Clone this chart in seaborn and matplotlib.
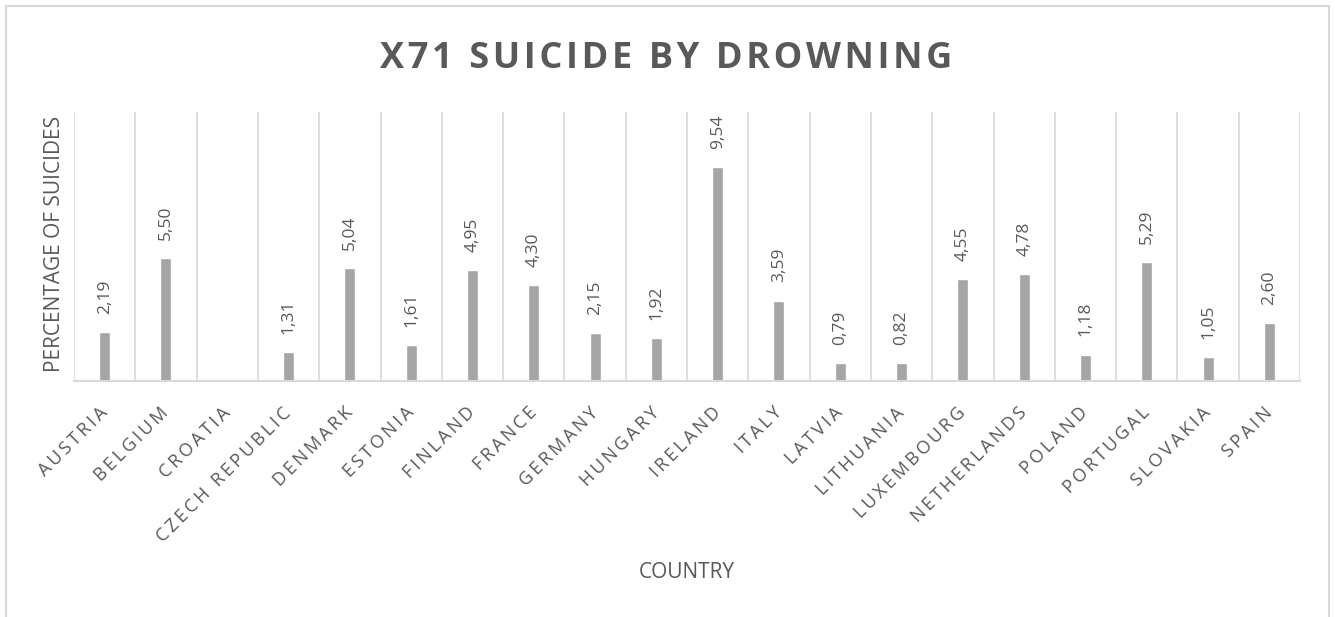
import numpy as np
import pandas as pd
import matplotlib
matplotlib.use("Agg")
import matplotlib.pyplot as plt
import seaborn as sns
from matplotlib.patches import Rectangle

countries = ["AUSTRIA", "BELGIUM", "CROATIA", "CZECH REPUBLIC", "DENMARK", "ESTONIA",
             "FINLAND", "FRANCE", "GERMANY", "HUNGARY", "IRELAND", "ITALY", "LATVIA",
             "LITHUANIA", "LUXEMBOURG", "NETHERLANDS", "POLAND", "PORTUGAL", "SLOVAKIA", "SPAIN"]
values = [2.19, 5.50, np.nan, 1.31, 5.04, 1.61, 4.95, 4.30, 2.15, 1.92, 9.54, 3.59, 0.79,
          0.82, 4.55, 4.78, 1.18, 5.29, 1.05, 2.60]
title = "X71 SUICIDE BY DROWNING"
ylabel = "PERCENTAGE OF SUICIDES"
xlabel = "COUNTRY"

TXT = "#595959"
GRID = "#D9D9D9"
BAR = "#A5A5A5"

sns.set_theme(style="white")
plt.rcParams['font.family'] = ['Open Sans', 'DejaVu Sans']

W, H = 1335, 617
fig = plt.figure(figsize=(W / 100, H / 100), dpi=100)
ax = fig.add_axes([74 / W, 1 - 381 / H, (1300 - 74) / W, (381 - 112) / H])

df = pd.DataFrame({"country": countries, "value": values})
sns.barplot(data=df, x="country", y="value", order=countries, color=BAR,
            width=0.18, ax=ax, saturation=1, errorbar=None)

ax.set_ylim(0, 12)
ax.set_xlim(-0.5, len(countries) - 0.5)
ax.set_yticks([])
for s in ["top", "right", "left"]:
    ax.spines[s].set_visible(False)
ax.spines["bottom"].set_color(GRID)
ax.spines["bottom"].set_linewidth(1.5)
for b in np.arange(-0.5, len(countries) + 0.5, 1.0):
    ax.axvline(b, color=GRID, lw=1.2, zorder=0)

for i, v in enumerate(values):
    if np.isnan(v):
        continue
    ax.annotate(f"{v:.2f}".replace(".", ","), (i, v), xytext=(0, 13),
                textcoords="offset points", rotation=90, ha="center", va="bottom",
                color=TXT, fontsize=12.5)

def spaced(s, sep):
    return sep.join(list(s))

ax.set_xticks(range(len(countries)))
ax.set_xticklabels([spaced(c, "\u2009") for c in countries], rotation=45, ha="right",
                   va="center", rotation_mode="anchor", color=TXT, fontsize=13)
ax.tick_params(axis="x", length=0, pad=21)
ax.set_xlabel("")
ax.set_ylabel("")

fig.text(55 / W, 1 - 244 / H, ylabel, rotation=90, ha="center", va="center",
         color=TXT, fontsize=15)
fig.text(687 / W, 1 - 572 / H, xlabel, ha="center", va="center", color=TXT, fontsize=15)
fig.text(666 / W, 1 - 55 / H, spaced(title, "\u200a"), ha="center", va="center_baseline",
         color=TXT, fontsize=26, fontweight="bold")

fig.patches.append(Rectangle((6 / W, -0.05), (1329 - 6) / W, 1 - 6 / H + 0.05,
                             transform=fig.transFigure, fill=False, edgecolor=GRID,
                             lw=1.5))

fig.savefig("out.png", dpi=100, facecolor="white")
